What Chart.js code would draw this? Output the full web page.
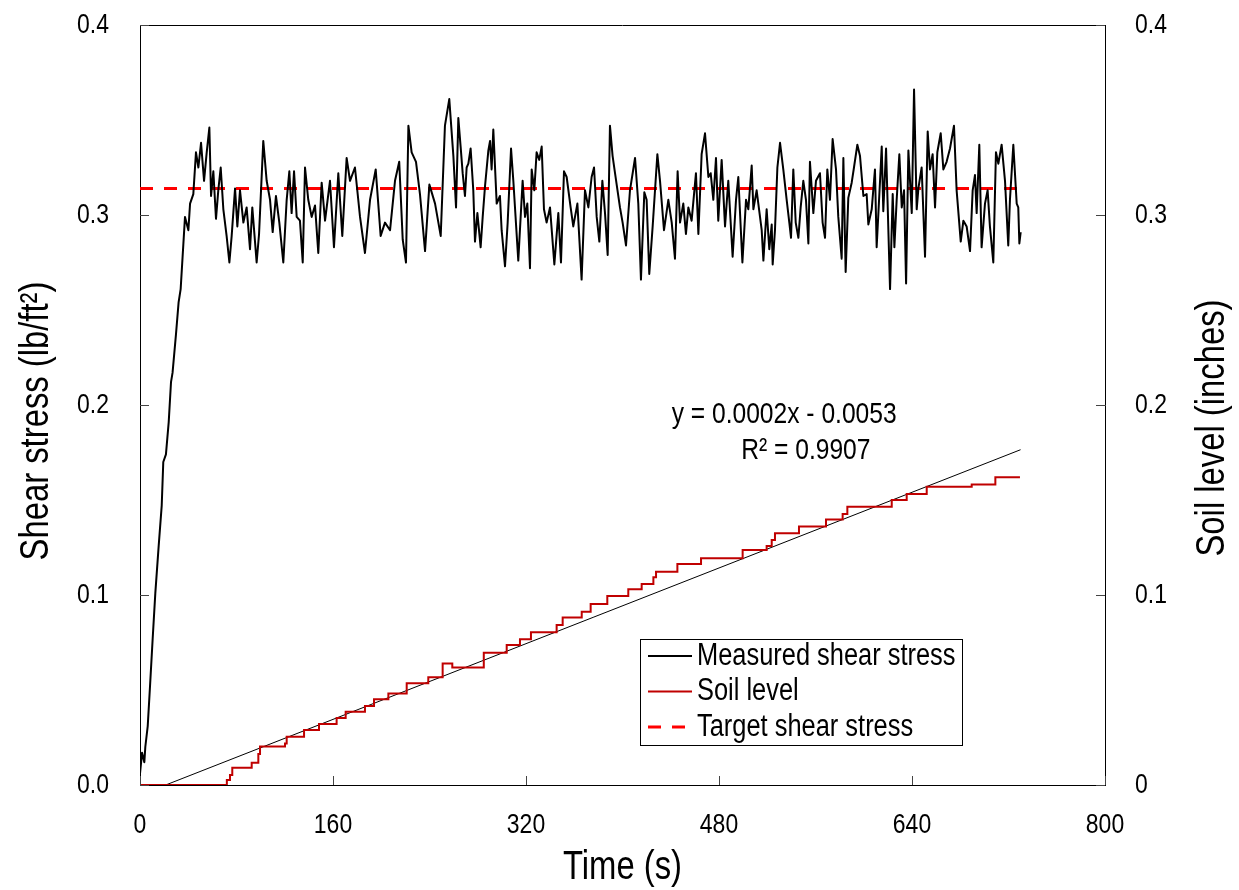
<!DOCTYPE html>
<html>
<head>
<meta charset="utf-8">
<script src="https://cdn.jsdelivr.net/npm/chart.js@4.4.1/dist/chart.umd.min.js"></script>
<style>
  body { margin: 0; background: #fff; }
  #wrap { width: 1239px; height: 890px; }
</style>
</head>
<body>
<div id="wrap"><canvas id="chart" width="1239" height="890"></canvas></div>
<script>
const xTicks = [0, 160, 320, 480, 640, 800];
const yTicks = [0, 0.1, 0.2, 0.3, 0.4];

// measured shear stress (lb/ft2) vs time (s)
const shearTime = [
  0, 1.7, 3.6, 4.4, 6.4, 8.3, 10.5, 12.7, 15.5, 18, 19.3, 21.5, 23.8, 25.7, 27, 29.8, 32,
  33.7, 37.3, 40.1, 41.5, 44.2, 46.4, 48.4, 50.6, 53.1, 55.3, 57.5, 58.9, 60.8, 63.0, 64.9, 66.9, 69.1, 71.8, 74.1, 76.0, 78.8, 80.7, 82.9, 85.7, 88.4, 91.2, 93.1, 96.7, 98.7,
  102.2, 105.0, 107.8, 110.0, 112.7, 115.5, 118.8, 121.6, 123.8, 125.7, 127.7, 129.9, 132.6, 134.9, 136.8, 139.5, 142.3, 145.1, 147.8, 150.6, 153.4, 157.5, 160.8, 164.4, 167.7, 171.3, 174.1, 178.2, 182.4, 186.5, 190.7, 195.4, 199.5,
  203.1, 207.3, 211.4, 214.9, 217.8, 220.5, 222.5, 225.2, 228.8, 232.1, 236.3, 239.9, 244.6, 249.3, 252.8, 256.4,
  259.8, 262.0, 263.9, 265.8, 267.5, 269.4, 270.8, 272.2, 274.1, 276.3, 277.7, 279.7, 282.4, 284.1, 286.0, 288.8, 290.2, 291.5, 292.9, 295.7, 298.4, 299.8,
  302.6, 304.8, 307.6, 309.5, 313.6, 317.2, 319.2, 321.1, 323.3, 324.7, 326.9, 328.8, 331.0, 333.0, 334.9, 337.1, 339.9, 343.5, 346.8, 349.0, 351.5, 353.7, 357.0, 359.2, 362.6, 366.1, 368.9, 371.7, 374.4, 376.4, 378.6, 380.8, 383.3, 385.5, 387.7, 389.6, 391.8, 393.8, 397.9,
  400.1, 402.9, 406.2, 410.4, 413.1, 415.3, 418.1, 420.0, 422.2, 425.0, 428.9, 431.1, 434.4, 438.0, 440.8, 443.5, 445.7, 447.7, 450.4, 452.6, 454.6, 457.3, 460.9, 462.9, 465.6, 468.4, 471.2, 473.1, 475.3, 477.5, 479.4, 482.2, 485.0, 487.7, 491.3, 494.1, 496.0, 499.4,
  502.4, 504.3, 507.1, 508.5, 511.2, 515.4, 516.8, 519.5, 521.7, 523.7, 524.5, 526.4, 528.4, 530.6, 533.3, 536.1, 538.3, 539.7, 541.6, 543.6, 545.8, 547.7, 549.9, 552.1, 554.1, 555.4, 558.2, 560.4, 563.7, 565.9, 567.9, 569.8, 572.0, 574.2, 577.0, 578.9, 581.7, 583.1, 585.0, 587.2, 590.0, 591.9, 594.7, 596.9, 599.7,
  602.4, 603.8, 606.6, 609.3, 610.7, 613.5, 614.9, 616.2, 618.5, 621.8, 624.0, 625.4, 627.3, 629.5, 631.5, 633.4, 635.1, 637.0, 639.8, 641.7, 643.9, 645.3, 648.0, 650.8, 653.0, 654.9, 657.1, 659.1, 661.0, 663.8, 666.0, 668.7, 671.5, 674.8, 677.0, 680.4, 682.6, 685.3, 688.1, 690.3, 692.2, 693.6, 695.8, 697.7,
  700.5, 702.7, 704.6, 707.4, 709.6, 711.6, 714.3, 717.1, 719.8, 721.2, 724.0, 726.8, 728.1, 729.0, 730.1
];
const shearValue = [
  0.006, 0.017, 0.012, 0.02, 0.031, 0.052, 0.077, 0.101, 0.126, 0.147, 0.170, 0.174, 0.191, 0.212, 0.217, 0.237, 0.254,
  0.261, 0.299, 0.292, 0.306, 0.311, 0.333, 0.325, 0.338, 0.318, 0.333, 0.346, 0.310, 0.323, 0.298, 0.313, 0.325, 0.303, 0.289, 0.275, 0.289, 0.314, 0.294, 0.313, 0.296, 0.304, 0.282, 0.304, 0.275, 0.290,
  0.339, 0.318, 0.308, 0.291, 0.310, 0.296, 0.275, 0.308, 0.323, 0.301, 0.323, 0.299, 0.297, 0.275, 0.325, 0.308, 0.299, 0.305, 0.280, 0.317, 0.297, 0.318, 0.283, 0.322, 0.289, 0.330, 0.318, 0.325, 0.299, 0.280, 0.308, 0.324, 0.289,
  0.296, 0.292, 0.318, 0.328, 0.287, 0.275, 0.347, 0.333, 0.328, 0.311, 0.281, 0.316, 0.306, 0.289, 0.347, 0.361,
  0.331, 0.304, 0.351, 0.336, 0.322, 0.310, 0.325, 0.327, 0.335, 0.313, 0.286, 0.301, 0.283, 0.299, 0.315, 0.334, 0.339, 0.324, 0.345, 0.306, 0.310, 0.292,
  0.273, 0.296, 0.335, 0.318, 0.276, 0.318, 0.299, 0.306, 0.272, 0.324, 0.313, 0.333, 0.329, 0.336, 0.303, 0.296, 0.304, 0.274, 0.301, 0.275, 0.323, 0.320, 0.304, 0.294, 0.306, 0.266, 0.313, 0.304, 0.320, 0.325, 0.299, 0.286, 0.318, 0.301, 0.279, 0.347, 0.331, 0.322, 0.304,
  0.296, 0.284, 0.313, 0.330, 0.306, 0.266, 0.312, 0.308, 0.269, 0.294, 0.332, 0.318, 0.292, 0.308, 0.296, 0.277, 0.323, 0.296, 0.306, 0.290, 0.304, 0.297, 0.322, 0.290, 0.332, 0.343, 0.320, 0.322, 0.308, 0.330, 0.297, 0.329, 0.294, 0.318, 0.278, 0.308, 0.320, 0.275,
  0.308, 0.303, 0.326, 0.303, 0.313, 0.292, 0.276, 0.303, 0.282, 0.295, 0.274, 0.292, 0.325, 0.338, 0.324, 0.308, 0.296, 0.288, 0.324, 0.296, 0.288, 0.304, 0.318, 0.308, 0.285, 0.328, 0.301, 0.318, 0.322, 0.296, 0.288, 0.324, 0.308, 0.340, 0.324, 0.299, 0.277, 0.330, 0.270, 0.309, 0.317, 0.325, 0.337, 0.331, 0.310,
  0.311, 0.295, 0.303, 0.324, 0.283, 0.318, 0.336, 0.302, 0.335, 0.261, 0.311, 0.283, 0.308, 0.332, 0.304, 0.313, 0.264, 0.334, 0.301, 0.366, 0.303, 0.314, 0.325, 0.278, 0.344, 0.324, 0.332, 0.304, 0.333, 0.343, 0.324, 0.328, 0.335, 0.347, 0.313, 0.286, 0.297, 0.294, 0.281, 0.313, 0.321, 0.301, 0.337, 0.283,
  0.306, 0.313, 0.294, 0.275, 0.333, 0.327, 0.337, 0.318, 0.284, 0.308, 0.337, 0.306, 0.304, 0.285, 0.291
];

// soil level (inches): time where each step happens, and the new level
const soilTime = [
  0, 72, 74.6, 76.5, 92.6, 98.1, 99.5, 120.2, 121.6, 136,
  148.4, 163, 170.5, 186.5, 194, 205.9, 221.1, 239, 250.9, 258.9,
  285, 304, 315, 324.1, 345.4, 350.4, 366.2, 373.6, 387.4, 404.8,
  415.9, 425.6, 427.8, 445.5, 465.1, 499.6, 519.5, 523.7, 526.4, 546.3,
  568.7, 582.5, 586.4, 623.2, 635.6, 652.2, 689.5, 709.1, 729.5
];
const soilLevel = [
  0, 0.0026, 0.0053, 0.0091, 0.0117, 0.0163, 0.0202, 0.0219, 0.0254, 0.0289,
  0.0321, 0.0353, 0.0386, 0.0416, 0.0451, 0.0482, 0.0535, 0.0567, 0.064, 0.0618,
  0.0696, 0.0737, 0.0767, 0.0804, 0.0842, 0.0881, 0.0912, 0.0953, 0.0995, 0.103,
  0.1058, 0.1093, 0.1123, 0.1163, 0.1193, 0.1237, 0.1258, 0.1289, 0.1325, 0.136,
  0.1398, 0.1426, 0.1465, 0.15, 0.1532, 0.157, 0.1582, 0.162, 0.162
];

// linear trend of soil level (the label shows the rounded coefficients)
const trendSlope = 0.000249;
const trendIntercept = -0.0053;
const trendEnd = 730;
const trendLabel = ["y = 0.0002x - 0.0053", "R\u00b2 = 0.9907"];

const targetTime = [0, 732];
const targetStress = 0.314;

const baseFont = '"Liberation Sans", Arial, sans-serif';
const squeeze = 0.82; // Arial Narrow look

// narrow text: regular face squeezed horizontally
function narrowText(ctx, text, x, y, size, align, angle) {
  ctx.save();
  ctx.font = size + "px " + baseFont;
  ctx.textAlign = align;
  ctx.textBaseline = "middle";
  ctx.translate(x, y);
  if (angle) ctx.rotate(angle);
  ctx.scale(squeeze, 1);
  ctx.fillText(text, 0, 0);
  ctx.restore();
}

const zip = (xs, ys) => xs.map((x, i) => ({ x: x, y: ys[i] }));
const trendStart = -trendIntercept / trendSlope;

const data = {
  datasets: [
    {
      label: "Measured shear stress",
      data: zip(shearTime, shearValue),
      yAxisID: "y",
      borderColor: "#000000",
      borderWidth: 2,
      borderJoinStyle: "round",
      order: 1,
    },
    {
      label: "Target shear stress",
      data: zip(targetTime, targetTime.map(() => targetStress)),
      yAxisID: "y",
      borderColor: "#ff0000",
      borderWidth: 3,
      borderDash: [13, 11],
      order: 2,
    },
    {
      label: "Soil level",
      data: zip(soilTime, soilLevel),
      yAxisID: "y2",
      borderColor: "#c00000",
      borderWidth: 2,
      stepped: true,
      order: 3,
    },
    {
      label: "trend",
      data: [
        { x: trendStart, y: 0 },
        { x: trendEnd, y: trendSlope * trendEnd + trendIntercept },
      ],
      yAxisID: "y2",
      borderColor: "#000000",
      borderWidth: 1,
      order: 4,
    },
  ],
};

const legendItems = [
  { text: "Measured shear stress", color: "#000000", width: 2, dash: [] },
  { text: "Soil level", color: "#c00000", width: 2, dash: [] },
  { text: "Target shear stress", color: "#ff0000", width: 3, dash: [13, 11] },
];

const decorations = {
  id: "decorations",
  afterDraw(chart) {
    const ctx = chart.ctx;
    const a = chart.chartArea;
    const sx = chart.scales.x, sy = chart.scales.y, sy2 = chart.scales.y2;
    ctx.save();

    // top border of the plot box
    ctx.strokeStyle = "#000";
    ctx.lineWidth = 1;
    ctx.beginPath();
    ctx.moveTo(a.left, a.top + 0.5);
    ctx.lineTo(a.right, a.top + 0.5);
    ctx.stroke();

    // tick marks pointing inwards
    ctx.strokeStyle = "#444";
    ctx.beginPath();
    sx.ticks.forEach(t => {
      const p = Math.round(sx.getPixelForValue(t.value)) + 0.5;
      ctx.moveTo(p, a.bottom);
      ctx.lineTo(p, a.bottom - 9);
    });
    sy.ticks.forEach(t => {
      const p = Math.round(sy.getPixelForValue(t.value)) + 0.5;
      ctx.moveTo(a.left, p);
      ctx.lineTo(a.left + 9, p);
    });
    sy2.ticks.forEach(t => {
      const p = Math.round(sy2.getPixelForValue(t.value)) + 0.5;
      ctx.moveTo(a.right, p);
      ctx.lineTo(a.right - 9, p);
    });
    ctx.stroke();

    // tick labels
    ctx.fillStyle = "#000";
    xTicks.forEach(v => narrowText(ctx, String(v), sx.getPixelForValue(v), a.bottom + 40, 28, "center"));
    yTicks.forEach(v => narrowText(ctx, v.toFixed(1), a.left - 31, sy.getPixelForValue(v), 28, "right"));
    yTicks.forEach(v => narrowText(ctx, v === 0 ? "0" : v.toFixed(1), a.right + 30, sy2.getPixelForValue(v), 28, "left"));

    // axis titles
    narrowText(ctx, "Time (s)", (a.left + a.right) / 2, 868, 40, "center");
    narrowText(ctx, "Shear stress (lb/ft\u00b2)", 37, 421, 40, "center", -Math.PI / 2);
    narrowText(ctx, "Soil level (inches)", 1213, 428, 40, "center", -Math.PI / 2);

    // trend equation
    narrowText(ctx, trendLabel[0], sx.getPixelForValue(534), sy2.getPixelForValue(0.1947), 30, "center");
    narrowText(ctx, trendLabel[1], sx.getPixelForValue(552), sy2.getPixelForValue(0.1758), 30, "center");

    // legend box
    const L = a.left + 500, T = a.top + 614, W = 322, H = 106;
    ctx.fillStyle = "#fff";
    ctx.fillRect(L, T, W, H);
    ctx.strokeStyle = "#000";
    ctx.lineWidth = 1;
    ctx.strokeRect(L + 0.5, T + 0.5, W, H);
    legendItems.forEach((item, i) => {
      const yy = T + 17 + i * 35.5;
      ctx.strokeStyle = item.color;
      ctx.lineWidth = item.width;
      ctx.setLineDash(item.dash);
      ctx.beginPath();
      ctx.moveTo(L + 8, yy);
      ctx.lineTo(L + 52, yy);
      ctx.stroke();
      ctx.setLineDash([]);
      ctx.fillStyle = "#000";
      narrowText(ctx, item.text, L + 57, yy, 31, "left");
    });
    ctx.restore();
  },
};

const config = {
  type: "scatter",
  data: data,
  options: {
    responsive: false,
    animation: false,
    showLine: true,
    elements: { point: { radius: 0, hoverRadius: 0 }, line: { tension: 0 } },
    layout: { padding: { top: 25, left: 0, right: 0, bottom: 0 } },
    plugins: {
      legend: { display: false },
      tooltip: { enabled: false },
    },
    scales: {
      x: {
        type: "linear",
        min: xTicks[0],
        max: xTicks[xTicks.length - 1],
        afterBuildTicks: s => { s.ticks = xTicks.map(v => ({ value: v })); },
        ticks: { display: false },
        grid: { display: false },
        border: { color: "#000", width: 1 },
        afterFit: s => { s.height = 105; },
      },
      y: {
        position: "left",
        min: yTicks[0],
        max: yTicks[yTicks.length - 1],
        afterBuildTicks: s => { s.ticks = yTicks.map(v => ({ value: v })); },
        ticks: { display: false },
        grid: { display: false },
        border: { color: "#000", width: 1 },
        afterFit: s => { s.width = 140; },
      },
      y2: {
        position: "right",
        min: yTicks[0],
        max: yTicks[yTicks.length - 1],
        afterBuildTicks: s => { s.ticks = yTicks.map(v => ({ value: v })); },
        ticks: { display: false },
        grid: { display: false },
        border: { color: "#000", width: 1 },
        afterFit: s => { s.width = 134; },
      },
    },
  },
  plugins: [decorations],
};

const myChart = new Chart(document.getElementById("chart"), config);
</script>
</body>
</html>
